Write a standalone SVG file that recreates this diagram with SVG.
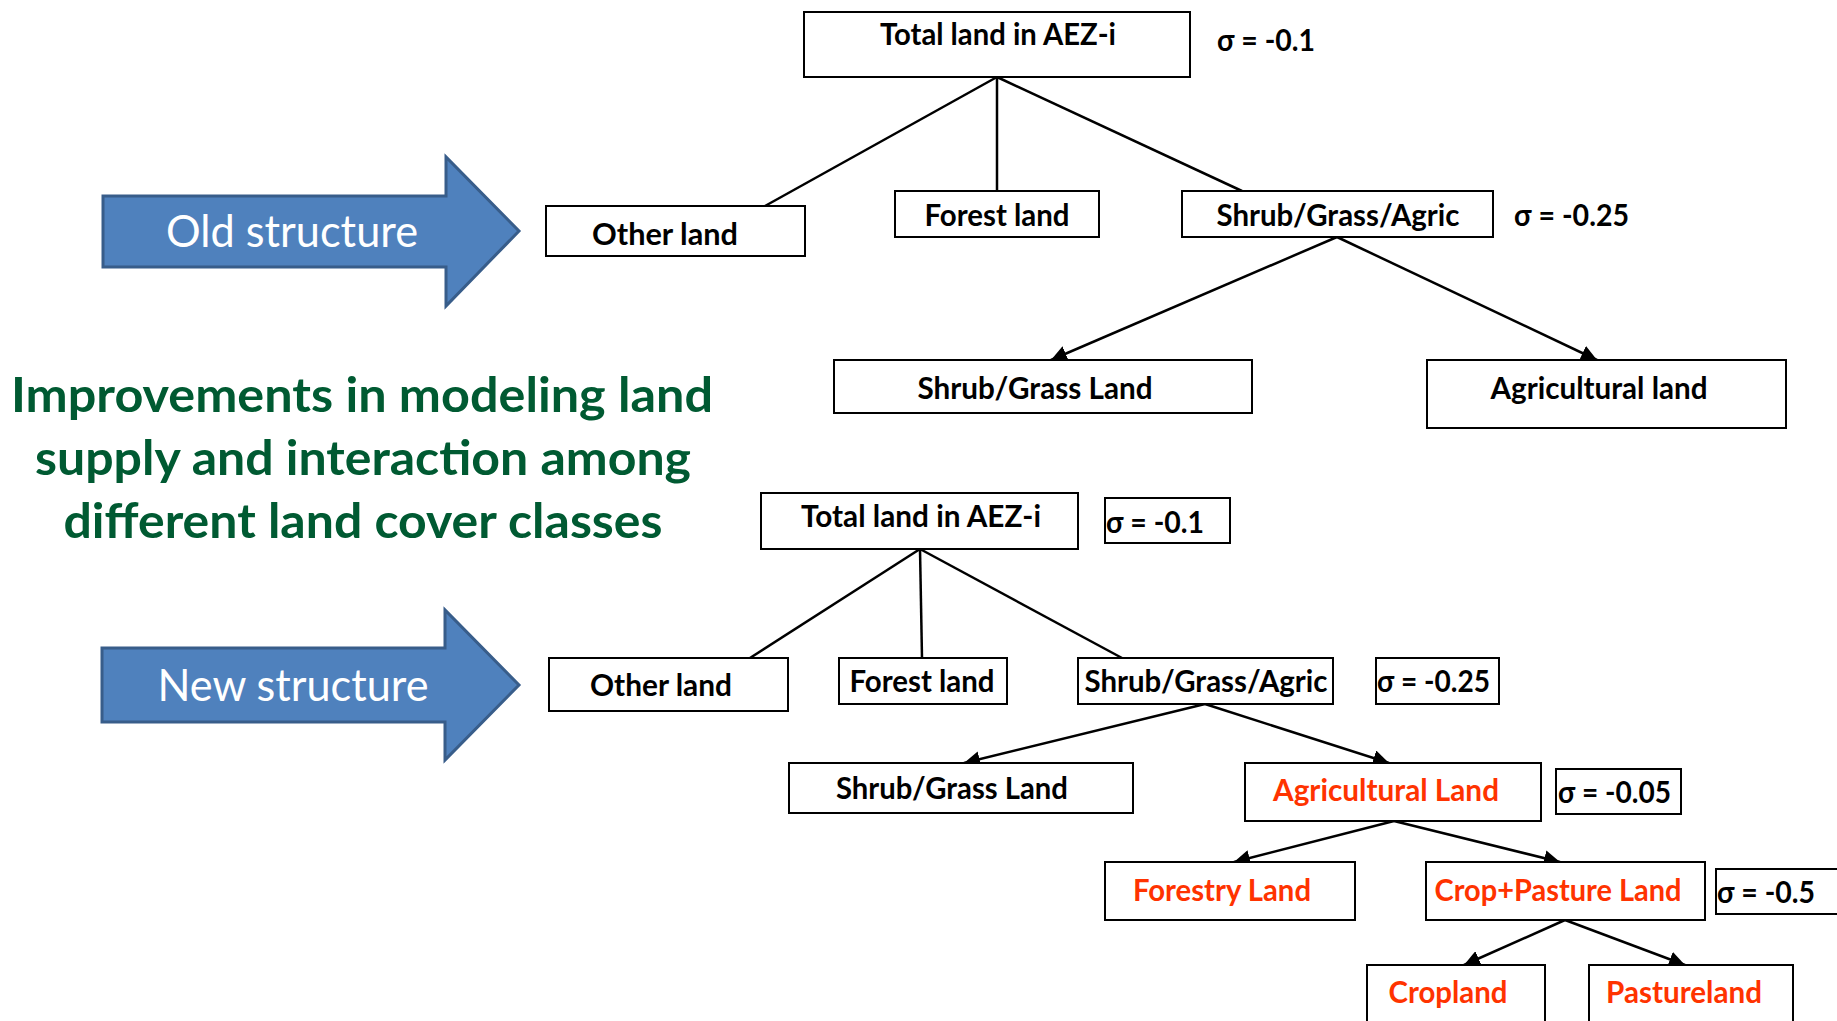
<svg xmlns="http://www.w3.org/2000/svg" width="1837" height="1021" viewBox="0 0 1837 1021">
<defs>
<style>
.box{fill:#fff;stroke:#000;stroke-width:2}
.sbox{fill:#fff;stroke:#000;stroke-width:2}
.t{font-family:Lato,"Liberation Sans",sans-serif;font-weight:bold;font-size:30px;fill:#000}
.c{text-anchor:middle}
.red{fill:#FF3300}
.big{font-family:Lato,"Liberation Sans",sans-serif;font-size:44px;fill:#fff;text-anchor:middle}
.green{font-family:Lato,"Liberation Sans",sans-serif;font-weight:bold;font-size:48px;fill:#005A32;text-anchor:middle}
.ln{stroke:#000;stroke-width:2.5;fill:none}
.arrowfig{fill:#4F81BD;stroke:#385D8A;stroke-width:3}
</style>
<marker id="ah" markerUnits="userSpaceOnUse" markerWidth="18" markerHeight="16" refX="16" refY="8" orient="auto">
<path d="M0,0 L16,8 L0,16 Z" fill="#000"/>
</marker>
</defs>

<g id="old-arrow">
<path class="arrowfig" d="M103,196 L446,196 L446,157 L519,231 L446,306 L446,267 L103,267 Z"/>
<text class="big" x="292" y="247" textLength="252" lengthAdjust="spacingAndGlyphs">Old structure</text>
</g>
<g id="new-arrow">
<path class="arrowfig" d="M102,648 L445,648 L445,610 L519,685 L445,760 L445,722 L102,722 Z"/>
<text class="big" x="293" y="701" textLength="271" lengthAdjust="spacingAndGlyphs">New structure</text>
</g>

<g id="title">
<text class="green" x="362" y="412" textLength="702" lengthAdjust="spacingAndGlyphs">Improvements in modeling land</text>
<text class="green" x="363" y="475" textLength="656" lengthAdjust="spacingAndGlyphs">supply and interaction among</text>
<text class="green" x="363" y="538" textLength="599" lengthAdjust="spacingAndGlyphs">different land cover classes</text>
</g>

<g id="connectors">
<line class="ln" x1="997" y1="77" x2="765" y2="206"/>
<line class="ln" x1="997" y1="77" x2="997" y2="191"/>
<line class="ln" x1="997" y1="77" x2="1242" y2="191"/>
<line class="ln" x1="1337" y1="237" x2="1051" y2="360" marker-end="url(#ah)"/>
<line class="ln" x1="1337" y1="237" x2="1597" y2="360" marker-end="url(#ah)"/>
<line class="ln" x1="920" y1="549" x2="750" y2="658"/>
<line class="ln" x1="920" y1="549" x2="922" y2="658"/>
<line class="ln" x1="920" y1="549" x2="1122" y2="658"/>
<line class="ln" x1="1205" y1="704" x2="964" y2="763" marker-end="url(#ah)"/>
<line class="ln" x1="1205" y1="704" x2="1389" y2="763" marker-end="url(#ah)"/>
<line class="ln" x1="1394" y1="821" x2="1234" y2="862" marker-end="url(#ah)"/>
<line class="ln" x1="1394" y1="821" x2="1560" y2="862" marker-end="url(#ah)"/>
<line class="ln" x1="1565" y1="920" x2="1464" y2="965" marker-end="url(#ah)"/>
<line class="ln" x1="1565" y1="920" x2="1685" y2="965" marker-end="url(#ah)"/>
</g>

<g id="old-total"><rect class="box" x="804" y="12" width="386" height="65"/><text class="t c" x="998" y="45" textLength="236" lengthAdjust="spacingAndGlyphs">Total land in AEZ-i</text></g>
<g id="old-sigma1"><text class="t" x="1217" y="51" textLength="98" lengthAdjust="spacingAndGlyphs">σ = -0.1</text></g>
<g id="old-other"><rect class="box" x="546" y="206" width="259" height="50"/><text class="t c" x="665" y="245" textLength="146" lengthAdjust="spacingAndGlyphs">Other land</text></g>
<g id="old-forest"><rect class="box" x="895" y="191" width="204" height="46"/><text class="t c" x="997" y="226" textLength="145" lengthAdjust="spacingAndGlyphs">Forest land</text></g>
<g id="old-sga"><rect class="box" x="1182" y="191" width="311" height="46"/><text class="t c" x="1338" y="226" textLength="243" lengthAdjust="spacingAndGlyphs">Shrub/Grass/Agric</text></g>
<g id="old-sigma2"><text class="t" x="1514" y="226" textLength="115" lengthAdjust="spacingAndGlyphs">σ = -0.25</text></g>
<g id="old-sgl"><rect class="box" x="834" y="360" width="418" height="53"/><text class="t c" x="1035" y="399" textLength="235" lengthAdjust="spacingAndGlyphs">Shrub/Grass Land</text></g>
<g id="old-agl"><rect class="box" x="1427" y="360" width="359" height="68"/><text class="t c" x="1599" y="399" textLength="217" lengthAdjust="spacingAndGlyphs">Agricultural land</text></g>

<g id="new-total"><rect class="box" x="761" y="493" width="317" height="56"/><text class="t c" x="921" y="527" textLength="240" lengthAdjust="spacingAndGlyphs">Total land in AEZ-i</text></g>
<g id="new-sigma1"><rect class="sbox" x="1105" y="498" width="125" height="45"/><text class="t" x="1106" y="533" textLength="98" lengthAdjust="spacingAndGlyphs">σ = -0.1</text></g>
<g id="new-other"><rect class="box" x="549" y="658" width="239" height="53"/><text class="t c" x="661" y="696" textLength="142" lengthAdjust="spacingAndGlyphs">Other land</text></g>
<g id="new-forest"><rect class="box" x="839" y="658" width="168" height="46"/><text class="t c" x="922" y="692" textLength="145" lengthAdjust="spacingAndGlyphs">Forest land</text></g>
<g id="new-sga"><rect class="box" x="1078" y="658" width="255" height="46"/><text class="t c" x="1206" y="692" textLength="243" lengthAdjust="spacingAndGlyphs">Shrub/Grass/Agric</text></g>
<g id="new-sigma2"><rect class="sbox" x="1376" y="658" width="123" height="46"/><text class="t" x="1377" y="692" textLength="113" lengthAdjust="spacingAndGlyphs">σ = -0.25</text></g>
<g id="new-sgl"><rect class="box" x="789" y="763" width="344" height="50"/><text class="t c" x="952" y="799" textLength="232" lengthAdjust="spacingAndGlyphs">Shrub/Grass Land</text></g>
<g id="new-agl"><rect class="box" x="1245" y="763" width="296" height="58"/><text class="t c red" x="1386" y="801" textLength="226" lengthAdjust="spacingAndGlyphs">Agricultural Land</text></g>
<g id="new-sigma3"><rect class="sbox" x="1556" y="769" width="125" height="45"/><text class="t" x="1558" y="803" textLength="113" lengthAdjust="spacingAndGlyphs">σ = -0.05</text></g>
<g id="new-forestry"><rect class="box" x="1105" y="862" width="250" height="58"/><text class="t c red" x="1222" y="901" textLength="178" lengthAdjust="spacingAndGlyphs">Forestry Land</text></g>
<g id="new-croppasture"><rect class="box" x="1426" y="862" width="279" height="58"/><text class="t c red" x="1558" y="901" textLength="247" lengthAdjust="spacingAndGlyphs">Crop+Pasture Land</text></g>
<g id="new-sigma4"><rect class="sbox" x="1716" y="869" width="140" height="45"/><text class="t" x="1717" y="903" textLength="98" lengthAdjust="spacingAndGlyphs">σ = -0.5</text></g>
<g id="new-cropland"><rect class="box" x="1367" y="965" width="178" height="70"/><text class="t c red" x="1448" y="1003" textLength="119" lengthAdjust="spacingAndGlyphs">Cropland</text></g>
<g id="new-pastureland"><rect class="box" x="1589" y="965" width="204" height="70"/><text class="t c red" x="1684" y="1003" textLength="156" lengthAdjust="spacingAndGlyphs">Pastureland</text></g>
</svg>
